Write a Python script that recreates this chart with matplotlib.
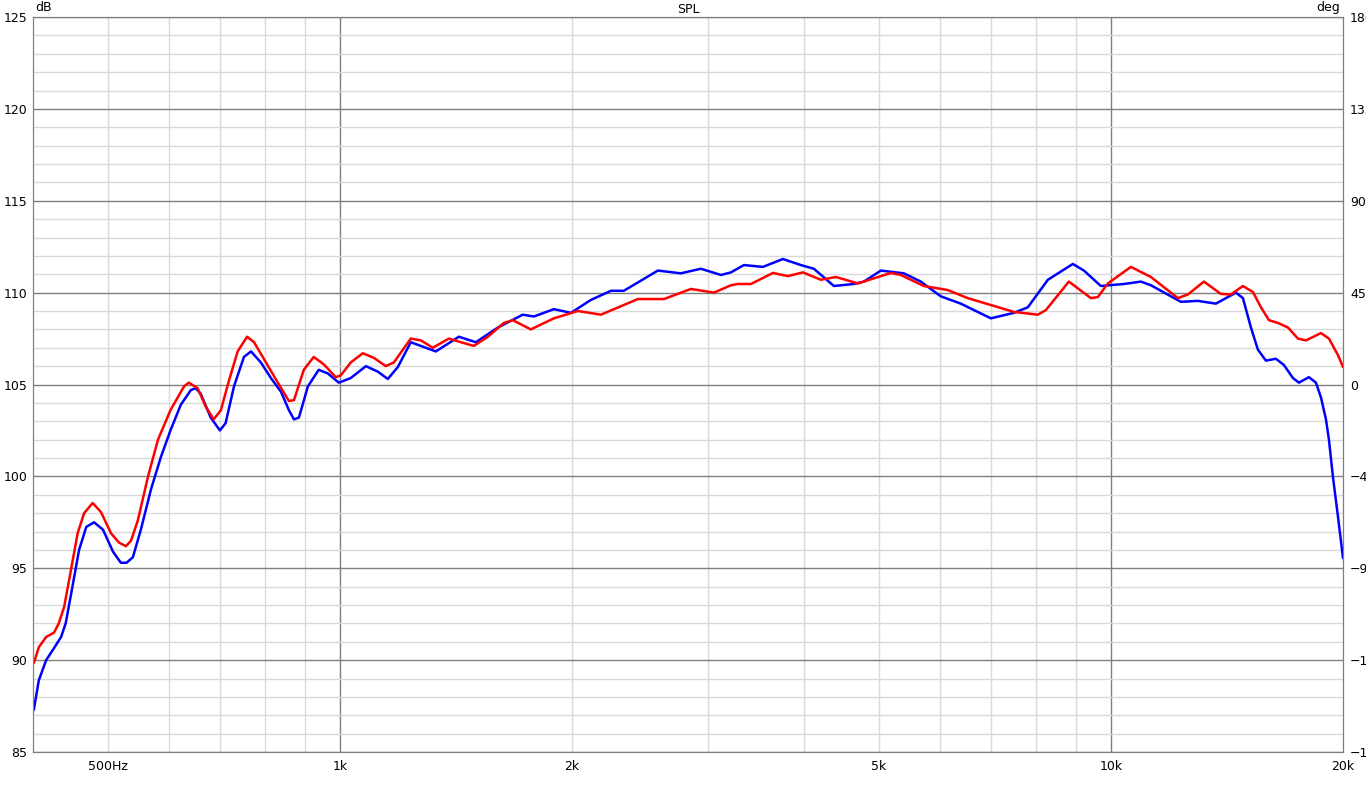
import numpy as np
import matplotlib
matplotlib.use("Agg")
import matplotlib.pyplot as plt
from matplotlib.ticker import FixedLocator

# SPL readings (Hz, dB)
red_freq = [401, 407, 416, 426, 432, 439, 448, 457, 466, 478, 490, 505, 517, 528,
            536, 547, 564, 581, 603, 628, 637, 654, 670, 686, 701, 718, 737, 758,
            774, 802, 831, 859, 872, 898, 925, 953, 988, 1003, 1033, 1071, 1107,
            1147, 1175, 1236, 1274, 1320, 1385, 1436, 1492, 1556, 1632, 1676,
            1769, 1895, 2036, 2181, 2435, 2632, 2853, 3056, 3215, 3283, 3413,
            3645, 3811, 3986, 4206, 4399, 4698, 5184, 5341, 5720, 6144, 6523,
            7485, 8040, 8236, 8820, 9421, 9619, 9911, 10615, 11270, 12215,
            12586, 13203, 13889, 14306, 14834, 15284, 15654, 16032, 16471,
            16971, 17480, 17904, 18726, 19177, 19703, 20000]
red_db = [89.84, 90.7, 91.26, 91.5, 92.0, 92.9, 94.9, 96.9, 98.0, 98.55, 98.06,
          96.9, 96.4, 96.2, 96.5, 97.6, 100.0, 102.0, 103.6, 104.9, 105.1,
          104.8, 103.8, 103.1, 103.6, 105.2, 106.8, 107.6, 107.3, 106.2, 105.1,
          104.1, 104.15, 105.8, 106.5, 106.1, 105.4, 105.5, 106.2, 106.7,
          106.45, 106.0, 106.2, 107.5, 107.4, 107.0, 107.5, 107.3, 107.1,
          107.6, 108.35, 108.5, 108.0, 108.6, 109.0, 108.8, 109.65, 109.65,
          110.2, 110.0, 110.4, 110.47, 110.47, 111.07, 110.9, 111.1, 110.7,
          110.85, 110.5, 111.07, 110.96, 110.36, 110.14, 109.7, 108.95, 108.8,
          109.05, 110.6, 109.7, 109.76, 110.5, 111.4, 110.85, 109.7, 109.9,
          110.6, 109.93, 109.9, 110.36, 110.03, 109.2, 108.5, 108.35, 108.1,
          107.5, 107.4, 107.8, 107.5, 106.6, 105.95]

blue_freq = [401, 407, 416, 426, 435, 441, 450, 459, 469, 480, 493, 508, 520,
             529, 539, 552, 569, 586, 603, 622, 641, 650, 660, 680, 699, 711,
             729, 751, 767, 790, 814, 839, 859, 872, 885, 909, 939, 965, 997,
             1033, 1081, 1120, 1154, 1189, 1236, 1285, 1332, 1427, 1501, 1603,
             1727, 1785, 1895, 1994, 2116, 2247, 2335, 2585, 2768, 2939, 3121,
             3215, 3342, 3538, 3755, 3962, 4119, 4373, 4642, 4782, 5031, 5389,
             5669, 6016, 6388, 6988, 7485, 7803, 8285, 8926, 9226, 9705, 10397,
             10937, 11270, 12325, 12968, 13684, 14527, 14834, 15192, 15511,
             15885, 16370, 16766, 17224, 17535, 18065, 18447, 18726, 19008,
             19177, 19408, 19703, 20000]
blue_db = [87.3, 88.9, 90.0, 90.66, 91.26, 92.0, 94.0, 96.0, 97.25, 97.5, 97.1,
           95.9, 95.3, 95.3, 95.6, 97.1, 99.3, 101.05, 102.5, 103.9, 104.7,
           104.8, 104.5, 103.2, 102.5, 102.9, 104.9, 106.5, 106.8, 106.2,
           105.35, 104.6, 103.6, 103.1, 103.2, 104.9, 105.8, 105.6, 105.1,
           105.35, 106.0, 105.7, 105.3, 105.95, 107.3, 107.04, 106.8, 107.6,
           107.3, 108.1, 108.8, 108.7, 109.1, 108.9, 109.6, 110.1, 110.1, 111.2,
           111.05, 111.3, 110.96, 111.1, 111.5, 111.4, 111.83, 111.5, 111.3,
           110.36, 110.47, 110.6, 111.2, 111.05, 110.6, 109.8, 109.4, 108.6,
           108.9, 109.2, 110.7, 111.56, 111.2, 110.36, 110.47, 110.6, 110.4,
           109.5, 109.55, 109.4, 110.0, 109.7, 108.1, 106.9, 106.3, 106.4,
           106.06, 105.35, 105.1, 105.4, 105.1, 104.3, 103.1, 102.0, 99.97,
           97.8, 95.56]

x_major = [1000, 10000]
x_major_labels = ["1k", "10k"]
x_minor = [500, 600, 700, 800, 900, 2000, 3000, 4000, 5000, 6000, 7000, 8000, 9000, 20000]
x_minor_labels = {500: "500Hz", 2000: "2k", 5000: "5k", 20000: "20k"}

fig = plt.figure(figsize=(13.66, 7.9), dpi=100)
ax = fig.add_axes([33 / 1366, 1 - 752 / 790, 1310 / 1366, 735 / 790])

ax.plot(blue_freq, blue_db, color="#0000ff", lw=1.8, zorder=3,
        solid_joinstyle="round", solid_capstyle="round")
ax.plot(red_freq, red_db, color="#ff0000", lw=1.8, zorder=4,
        solid_joinstyle="round", solid_capstyle="round")

ax.set_xscale("log")
ax.set_xlim(400, 20000)
ax.set_ylim(85, 125)

ax.xaxis.set_major_locator(FixedLocator(x_major))
ax.set_xticklabels(x_major_labels)
ax.xaxis.set_minor_locator(FixedLocator(x_minor))
ax.set_xticklabels([x_minor_labels.get(f, "") for f in x_minor], minor=True)
ax.set_yticks(np.arange(85, 126, 5))
ax.set_yticks(np.arange(85, 126, 1), minor=True)

ax.grid(True, which="major", color="#7f7f7f", lw=1.0)
ax.grid(True, which="minor", color="#d9d9d9", lw=1.0)
ax.set_axisbelow(True)

ax.tick_params(which="both", length=0, labelsize=9, colors="#000000")
ax.tick_params(axis="x", which="both", pad=6)
ax.tick_params(axis="y", pad=4)
for sp in ax.spines.values():
    sp.set_color("#7f7f7f")

ax2 = ax.twinx()
ax2.set_ylim(-180, 180)
ax2.set_yticks(np.arange(-180, 181, 45))
ax2.tick_params(length=0, labelsize=9, pad=5)
for sp in ax2.spines.values():
    sp.set_color("#7f7f7f")

ax.set_title("SPL", fontsize=9, pad=3)
ax.text(0.002, 1.004, "dB", transform=ax.transAxes, fontsize=9, ha="left", va="bottom")
ax.text(0.998, 1.004, "deg", transform=ax.transAxes, fontsize=9, ha="right", va="bottom")

fig.savefig("out.png", dpi=100)
